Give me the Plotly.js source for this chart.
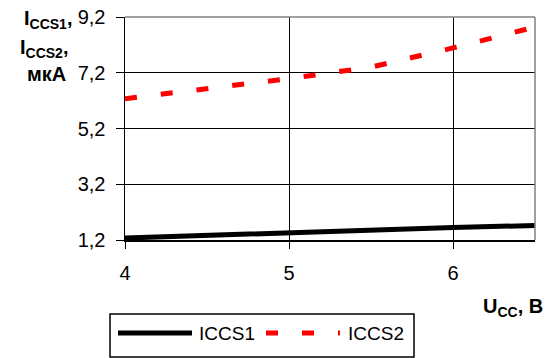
<!DOCTYPE html>
<html><head><meta charset="utf-8">
<script src="https://cdn.plot.ly/plotly-3.0.1.min.js"></script>
<style>body{margin:0;background:#fff}#c{width:558px;height:358px}</style>
</head><body><div id="c"></div>
<script>
const ucc = [4, 4.5, 5, 5.5, 6, 6.5];
const iccs1 = [1.27, 1.37, 1.45, 1.54, 1.65, 1.72];
const iccs2 = [6.27, 6.63, 6.99, 7.40, 8.09, 8.84];
const yTicks = [1.2, 3.2, 5.2, 7.2, 9.2];
const xTicks = [4, 5, 6];
const seriesNames = ['ICCS1', 'ICCS2'];

const F = 'Liberation Sans, Arial, sans-serif';
const L = 125, R = 535, T = 17, B = 240;
const px = v => (v - L) / (R - L);
const py = v => (B - v) / (B - T);

const data = [
  {x: ucc, y: iccs1, name: seriesNames[0], mode: 'lines', line: {color: '#000', width: 5}},
  {x: ucc, y: iccs2, name: seriesNames[1], mode: 'lines', line: {color: '#ff0000', width: 5, dash: '12px,24px'}}
];
const tf = {family: F, size: 20, color: '#000'};
const layout = {
  width: 558, height: 358,
  margin: {l: L, r: 558 - R, t: T, b: 358 - B, autoexpand: false},
  paper_bgcolor: '#fff', plot_bgcolor: '#fff',
  separators: ', ',
  font: {family: F, size: 17, color: '#000'},
  showlegend: false,
  xaxis: {range: [4, 6.5], tickvals: xTicks, ticktext: xTicks.map(String),
          showgrid: true, gridcolor: '#000', gridwidth: 1,
          showline: true, linecolor: '#000', linewidth: 1.5,
          ticks: 'outside', ticklen: 7, tickcolor: '#000', ticklabelstandoff: 7,
          zeroline: false, tickfont: tf},
  yaxis: {range: [1.2, 9.2], tickvals: yTicks, ticktext: yTicks.map(v => v.toFixed(1).replace('.', ',')),
          showgrid: true, gridcolor: '#000', gridwidth: 1,
          showline: true, linecolor: '#000', linewidth: 1.5,
          ticks: 'outside', ticklen: 8, tickcolor: '#000', ticklabelstandoff: 6,
          zeroline: false, tickfont: tf},
  shapes: [
    {type: 'line', xref: 'paper', yref: 'paper', x0: 0, x1: 1, y0: 1, y1: 1, line: {color: '#808080', width: 1.5}},
    {type: 'line', xref: 'paper', yref: 'paper', x0: 1, x1: 1, y0: 0, y1: 1, line: {color: '#808080', width: 1.5}},
    // legend box
    {type: 'rect', xref: 'paper', yref: 'paper', x0: px(110), x1: px(414), y0: py(314), y1: py(357),
     line: {color: '#000', width: 1.5}, fillcolor: 'rgba(0,0,0,0)'},
    {type: 'line', xref: 'paper', yref: 'paper', x0: px(118), x1: px(192), y0: py(333), y1: py(333),
     line: {color: '#000', width: 5}},
    {type: 'line', xref: 'paper', yref: 'paper', x0: px(266), x1: px(340), y0: py(333), y1: py(333),
     line: {color: '#ff0000', width: 5, dash: '12px,24px'}}
  ],
  annotations: [
    {xref: 'paper', yref: 'paper', x: px(197), y: py(333), xanchor: 'left', yanchor: 'middle', showarrow: false,
     text: seriesNames[0], font: {family: F, size: 19, color: '#000'}},
    {xref: 'paper', yref: 'paper', x: px(346), y: py(333), xanchor: 'left', yanchor: 'middle', showarrow: false,
     text: seriesNames[1], font: {family: F, size: 19, color: '#000'}},
    {xref: 'paper', yref: 'paper', x: px(74), y: py(19), xanchor: 'right', yanchor: 'middle', showarrow: false,
     text: '<b>I<sub>CCS1</sub>,</b>', font: {family: F, size: 20, color: '#000'}},
    {xref: 'paper', yref: 'paper', x: px(70), y: py(49), xanchor: 'right', yanchor: 'middle', showarrow: false,
     text: '<b>I<sub>CCS2</sub>,</b>', font: {family: F, size: 20, color: '#000'}},
    {xref: 'paper', yref: 'paper', x: px(68), y: py(74), xanchor: 'right', yanchor: 'middle', showarrow: false,
     text: '<b>мкА</b>', font: {family: F, size: 20, color: '#000'}},
    {xref: 'paper', yref: 'paper', x: px(545), y: py(307), xanchor: 'right', yanchor: 'middle', showarrow: false,
     text: '<b>U<sub>CC</sub>, В</b>', font: {family: F, size: 20, color: '#000'}}
  ]
};
Plotly.newPlot('c', data, layout, {displayModeBar: false, staticPlot: true});
</script></body></html>
